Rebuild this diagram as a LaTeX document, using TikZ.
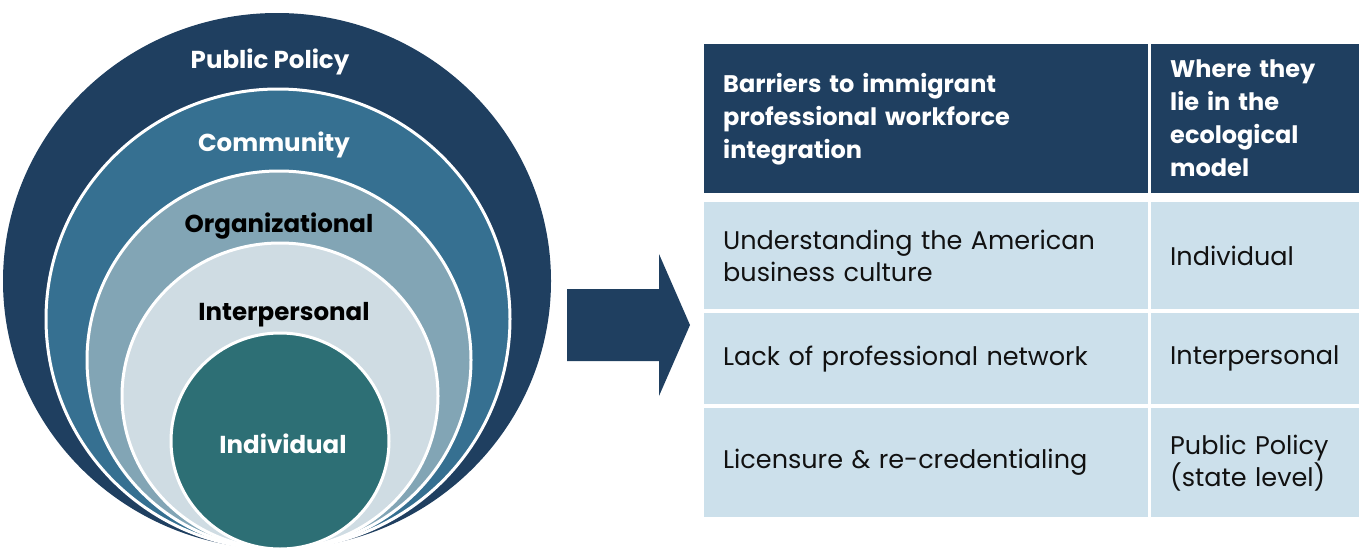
\documentclass[tikz,border=0pt]{standalone}
\usepackage{fontspec}
\setmainfont{Poppins}
\definecolor{navy}{HTML}{1F3F60}
\definecolor{commblue}{HTML}{367091}
\definecolor{orgblue}{HTML}{82A5B5}
\definecolor{interblue}{HTML}{CFDCE3}
\definecolor{indteal}{HTML}{2D6F75}
\definecolor{rowblue}{HTML}{CCE0EB}
\definecolor{txt}{HTML}{111111}
\begin{document}
\begin{tikzpicture}[x=1pt,y=-1pt,
  ring/.style={draw=white,line width=3pt},
  lbl/.style={font=\fontsize{24.5}{28}\selectfont\bfseries,inner sep=0pt},
  hcell/.style={fill=navy,text=white,anchor=north west,align=left,inner ysep=0pt,
    font=\fontsize{24}{33}\selectfont\bfseries},
  bcell/.style={fill=rowblue,text=txt,anchor=north west,align=left,inner ysep=0pt,
    font=\fontsize{25.5}{32}\selectfont},
  wide/.style={minimum width=444pt,text width=406pt,inner xsep=19pt},
  narrow/.style={minimum width=208pt,text width=170pt,inner xsep=19pt}]
\useasboundingbox (0,0) rectangle (1359,552);
% ecological model
\fill[navy] (277,281) ellipse [x radius=274pt,y radius=268pt];
\filldraw[fill=commblue,ring] (278,319) ellipse [x radius=232pt,y radius=230pt];
\filldraw[fill=orgblue,ring] (279,360) ellipse [x radius=192pt,y radius=189pt];
\filldraw[fill=interblue,ring] (280,396) ellipse [x radius=158pt,y radius=153pt];
\filldraw[fill=indteal,ring] (280,441) ellipse [x radius=109pt,y radius=108pt];
\node[lbl,text=white] (pp) at (270,62) {Public Policy};
\node[lbl,text=white] (cm) at (274,145) {Community};
\node[lbl,text=black] (org) at (279,226) {Organizational};
\node[lbl,text=black] (ip) at (284,315) {Interpersonal};
\node[lbl,text=white] (ind) at (283,444) {Individual};
% arrow
\fill[navy] (567,289) -- (659,289) -- (659,254) -- (690,325) -- (659,396) -- (659,361) -- (567,361) -- cycle;
% table
\node[hcell,wide,minimum height=149pt] (h1) at (704,44) {Barriers to immigrant\\professional workforce\\integration};
\node[hcell,narrow,minimum height=149pt] (h2) at (1151,44) {Where they\\lie in the\\ecological\\model};
\node[bcell,wide,minimum height=107pt] (r1a) at (704,202) {Understanding the American\\business culture};
\node[bcell,narrow,minimum height=107pt] (r1b) at (1151,202) {Individual};
\node[bcell,wide,minimum height=91pt] (r2a) at (704,313) {Lack of professional network};
\node[bcell,narrow,minimum height=91pt] (r2b) at (1151,313) {Interpersonal};
\node[bcell,wide,minimum height=109pt] (r3a) at (704,408) {Licensure \& re-credentialing};
\node[bcell,narrow,minimum height=109pt] (r3b) at (1151,408) {Public Policy\\(state level)};
\end{tikzpicture}
\end{document}
